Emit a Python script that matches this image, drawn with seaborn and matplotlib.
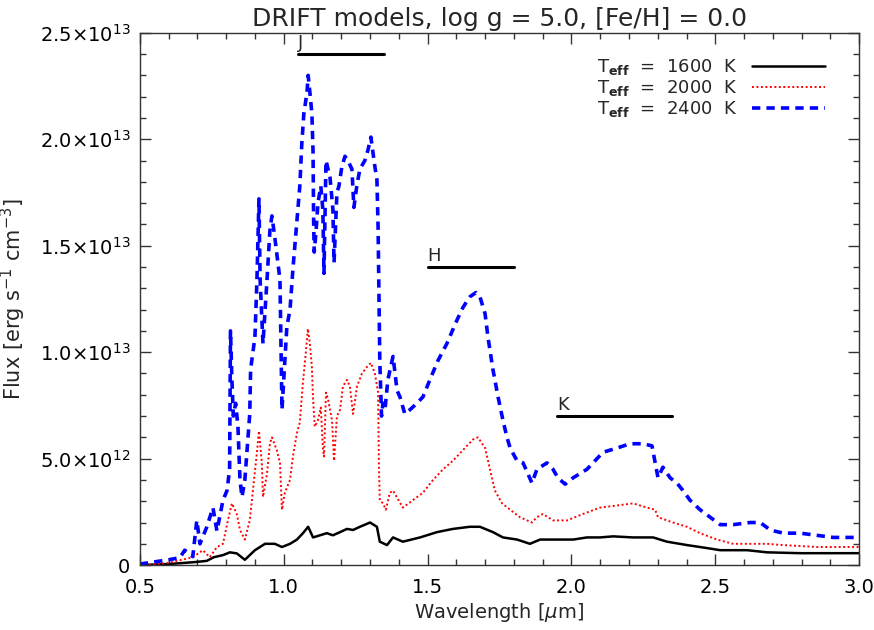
import numpy as np
import pandas as pd
import matplotlib
matplotlib.use("Agg")
import matplotlib.pyplot as plt
from matplotlib.ticker import MultipleLocator, FuncFormatter
import seaborn as sns

# ---------------- data (wavelength in micron, flux in 1e12 erg/s/cm^3) -------------
wl_1600 = [0.500, 0.600, 0.650, 0.698, 0.733, 0.757, 0.789, 0.813, 0.837, 0.865, 0.900,
           0.935, 0.969, 0.994, 1.022, 1.046, 1.067, 1.085, 1.102, 1.126, 1.150, 1.171,
           1.196, 1.220, 1.241, 1.265, 1.300, 1.324, 1.334, 1.359, 1.380, 1.414, 1.474,
           1.533, 1.588, 1.647, 1.682, 1.727, 1.762, 1.811, 1.856, 1.891, 2.006, 2.054,
           2.099, 2.145, 2.214, 2.284, 2.332, 2.402, 2.471, 2.517, 2.611, 2.680, 2.795,
           2.910, 3.000]
fx_1600 = [0.00, 0.05, 0.10, 0.15, 0.20, 0.37, 0.47, 0.60, 0.55, 0.25, 0.70,
           1.00, 1.00, 0.85, 1.00, 1.20, 1.50, 1.80, 1.30, 1.40, 1.50, 1.40,
           1.55, 1.70, 1.65, 1.80, 2.00, 1.80, 1.10, 0.94, 1.30, 1.10, 1.30,
           1.55, 1.70, 1.80, 1.80, 1.55, 1.30, 1.20, 1.00, 1.20, 1.20, 1.30,
           1.30, 1.35, 1.30, 1.30, 1.10, 0.94, 0.80, 0.70, 0.70, 0.60, 0.56,
           0.56, 0.56]

wl_2000 = [0.500, 0.550, 0.600, 0.639, 0.684, 0.719, 0.743, 0.768, 0.789, 0.806, 0.820,
           0.837, 0.848, 0.865, 0.882, 0.893, 0.907, 0.914, 0.924, 0.928, 0.942, 0.952,
           0.959, 0.976, 0.987, 0.994, 1.004, 1.022, 1.032, 1.046, 1.056, 1.067, 1.077,
           1.084, 1.091, 1.098, 1.102, 1.108, 1.119, 1.129, 1.136, 1.140, 1.147, 1.154,
           1.168, 1.175, 1.185, 1.196, 1.206, 1.220, 1.230, 1.241, 1.255, 1.272, 1.289,
           1.303, 1.317, 1.328, 1.331, 1.334, 1.345, 1.355, 1.369, 1.380, 1.414, 1.449,
           1.484, 1.519, 1.554, 1.588, 1.623, 1.658, 1.675, 1.700, 1.717, 1.734, 1.759,
           1.787, 1.821, 1.863, 1.880, 1.901, 1.936, 1.985, 2.040, 2.099, 2.159, 2.214,
           2.263, 2.291, 2.301, 2.353, 2.402, 2.447, 2.506, 2.562, 2.621, 2.680, 2.736,
           2.854, 3.000]
fx_2000 = [0.00, 0.05, 0.10, 0.23, 0.37, 0.70, 0.37, 0.85, 1.00, 2.10, 2.90,
           2.40, 1.65, 1.20, 2.10, 3.50, 5.30, 6.30, 4.80, 3.20, 4.30, 5.70,
           6.00, 5.40, 4.80, 2.60, 3.40, 4.00, 5.10, 6.20, 6.70, 8.60, 10.0,
           11.1, 10.4, 9.30, 7.80, 6.50, 6.80, 7.40, 5.50, 5.10, 8.10, 7.80,
           6.80, 4.90, 7.00, 7.30, 8.40, 8.70, 8.40, 7.10, 8.40, 9.00, 9.30,
           9.50, 9.00, 8.10, 4.60, 3.05, 2.90, 2.60, 3.40, 3.50, 2.70, 3.05,
           3.40, 4.00, 4.50, 4.90, 5.40, 5.90, 6.00, 5.50, 4.50, 3.50, 2.90,
           2.60, 2.25, 2.00, 2.25, 2.40, 2.10, 2.10, 2.40, 2.70, 2.80, 2.90,
           2.70, 2.60, 2.25, 2.00, 1.80, 1.50, 1.20, 1.00, 1.00, 1.00, 0.94,
           0.85, 0.85]

wl_2400 = [0.500, 0.550, 0.600, 0.639, 0.656, 0.684, 0.698, 0.709, 0.733, 0.754, 0.768,
           0.789, 0.803, 0.812, 0.815, 0.820, 0.825, 0.833, 0.841, 0.848, 0.855, 0.865,
           0.882, 0.885, 0.900, 0.907, 0.914, 0.918, 0.928, 0.942, 0.952, 0.959, 0.969,
           0.987, 0.994, 1.011, 1.022, 1.032, 1.046, 1.056, 1.063, 1.070, 1.081, 1.085,
           1.091, 1.098, 1.102, 1.104, 1.106, 1.112, 1.119, 1.129, 1.136, 1.140, 1.147,
           1.154, 1.161, 1.171, 1.175, 1.185, 1.192, 1.202, 1.213, 1.223, 1.237, 1.244,
           1.255, 1.265, 1.282, 1.293, 1.303, 1.310, 1.317, 1.324, 1.328, 1.331, 1.334,
           1.340, 1.345, 1.352, 1.362, 1.380, 1.394, 1.404, 1.421, 1.439, 1.463, 1.484,
           1.508, 1.536, 1.567, 1.602, 1.623, 1.647, 1.668, 1.682, 1.700, 1.710, 1.727,
           1.745, 1.762, 1.776, 1.787, 1.811, 1.832, 1.863, 1.880, 1.915, 1.936, 1.953,
           1.978, 2.006, 2.054, 2.075, 2.110, 2.159, 2.204, 2.249, 2.280, 2.291, 2.301,
           2.318, 2.343, 2.367, 2.388, 2.412, 2.447, 2.482, 2.517, 2.562, 2.621, 2.656,
           2.691, 2.736, 2.795, 2.854, 2.910, 2.958, 3.000]
fx_2400 = [0.05, 0.15, 0.25, 0.35, 0.70, 0.40, 2.10, 1.00, 1.80, 2.70, 1.60,
           3.05, 3.50, 4.50, 11.0, 8.70, 7.00, 7.60, 6.50, 4.00, 3.20, 4.00,
           7.10, 9.20, 10.7, 13.4, 17.2, 13.4, 10.4, 13.4, 15.7, 16.4, 15.4,
           13.4, 7.30, 11.2, 12.0, 13.9, 16.2, 17.8, 19.8, 21.2, 22.2, 23.0,
           22.2, 21.2, 19.4, 16.2, 14.7, 15.6, 17.0, 17.8, 16.7, 13.7, 19.0,
           18.6, 18.2, 16.7, 14.2, 17.5, 17.8, 18.7, 19.2, 19.0, 18.6, 16.8,
           17.9, 18.6, 19.0, 19.5, 20.1, 19.4, 18.7, 18.1, 15.9, 12.8, 9.60,
           7.00, 7.60, 7.30, 8.70, 9.80, 8.20, 7.90, 7.10, 7.30, 7.60, 7.90,
           8.70, 9.60, 10.4, 11.5, 12.1, 12.6, 12.8, 12.6, 11.8, 10.7, 9.20,
           7.90, 6.80, 6.00, 5.50, 4.90, 4.80, 3.85, 4.50, 4.80, 4.50, 4.10,
           3.80, 4.10, 4.50, 4.80, 5.30, 5.50, 5.70, 5.70, 5.60, 4.80, 4.10,
           4.60, 4.10, 3.85, 3.50, 3.05, 2.60, 2.25, 1.90, 1.90, 2.00, 2.00,
           1.65, 1.50, 1.50, 1.40, 1.30, 1.30, 1.30]

labels = ["1600", "2000", "2400"]
colors = ["black", "#ff0000", "#0000ff"]

band_names = ["J", "H", "K"]
band_start = [1.05, 1.50, 1.95]
band_end = [1.35, 1.80, 2.35]
band_level = [24.0, 14.0, 7.0]   # in 1e12

SCALE = 1e12

# ---------------- style -------------
sns.set_style("ticks")
plt.rcParams["font.family"] = ["DejaVu Sans"]
plt.rcParams["mathtext.fontset"] = "dejavusans"

fig = plt.figure(figsize=(8.74, 6.30), dpi=100)
ax = fig.add_axes([0.160, 0.103, 0.823, 0.845])

series = [(wl_1600, fx_1600), (wl_2000, fx_2000), (wl_2400, fx_2400)]
styles = [dict(lw=1.8, linestyle="-"),
          dict(lw=1.4, linestyle=(0, (1.0, 1.3))),
          dict(lw=2.6, linestyle=(0, (2.3, 1.7)))]
for (wl, fx), lab, col, st in zip(series, labels, colors, styles):
    df = pd.DataFrame({"wl": wl, "flux": np.array(fx) * SCALE})
    sns.lineplot(data=df, x="wl", y="flux", ax=ax, color=col, estimator=None,
                 sort=False, label=r"T$_{\mathbf{eff}}$  =  %s  K" % lab, **st)

for name, x0, x1, lv in zip(band_names, band_start, band_end, band_level):
    ax.plot([x0, x1], [lv * SCALE, lv * SCALE], color="black", lw=2.2)
    ax.text(x0, lv * SCALE + 0.1 * SCALE, name, fontsize=13, ha="left", va="bottom")

ax.set_xlim(0.5, 3.0)
ax.set_ylim(0, 2.5e13)
ax.xaxis.set_major_locator(MultipleLocator(0.5))
ax.xaxis.set_minor_locator(MultipleLocator(0.1))
ax.yaxis.set_major_locator(MultipleLocator(5e12))
ax.yaxis.set_minor_locator(MultipleLocator(1e12))
ax.xaxis.set_major_formatter(FuncFormatter(lambda v, p: "%.1f" % v))


def yfmt(v, p):
    if abs(v) < 1:
        return "0"
    e = int(np.floor(np.log10(abs(v))))
    m = v / 10 ** e
    return r"%.1f$\times$10$^{%d}$" % (m, e)


ax.yaxis.set_major_formatter(FuncFormatter(yfmt))
ax.tick_params(which="both", direction="in", top=True, right=True, colors="#333333",
               labelcolor="black", labelsize=14)
ax.tick_params(axis="x", which="major", pad=9)
ax.tick_params(axis="y", which="major", pad=7)
ax.tick_params(which="major", length=8, width=1)
ax.tick_params(which="minor", length=4, width=1)
for s in ax.spines.values():
    s.set_color("#333333")
    s.set_linewidth(1)

ax.set_xlabel(r"Wavelength [$\mu$m]", fontsize=14, labelpad=3)
ax.set_ylabel(r"Flux [erg s$^{-1}$ cm$^{-3}$]", fontsize=15, labelpad=8)
ax.set_title("DRIFT models, log g = 5.0, [Fe/H] = 0.0", fontsize=18, pad=5)

leg = ax.legend(loc="upper right", markerfirst=False, frameon=False, fontsize=13,
                handlelength=4.0, handletextpad=0.8, labelspacing=0.05,
                bbox_to_anchor=(0.962, 0.968), borderaxespad=0.0)

fig.savefig("out.png", dpi=100)
